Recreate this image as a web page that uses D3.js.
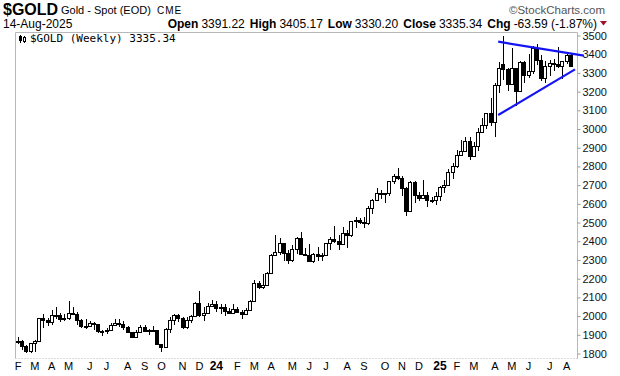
<!DOCTYPE html>
<html>
<head>
<meta charset="utf-8">
<script src="https://cdn.jsdelivr.net/npm/d3@7"></script>
<style>
  body { margin: 0; background: #fff; }
  svg { display: block; font-family: "Liberation Sans", Arial, sans-serif; }
</style>
</head>
<body>
<svg id="chart" width="620" height="376"></svg>
<script>
// weekly candles, Feb 6 2023 .. Aug 11 2025 (132 weeks)
const weeks = d3.timeMonday.range(new Date(2023, 1, 6), new Date(2025, 7, 12));

const opens = [
  1865, 1865, 1842, 1811, 1855, 1868, 1989, 1978, 1969, 2007, 2004, 1983,
  1990, 2017, 2011, 1977, 1946, 1948, 1961, 1958, 1921, 1919, 1925, 1955,
  1962, 1959, 1943, 1914, 1889, 1915, 1940, 1919, 1924, 1925, 1849, 1833,
  1932, 1981, 2006, 1992, 1940, 1981, 2002, 2072, 2004, 2019, 2053, 2063,
  2045, 2049, 2029, 2018, 2039, 2024, 2013, 2035, 2083, 2179, 2155, 2165,
  2230, 2329, 2344, 2392, 2337, 2301, 2360, 2415, 2334, 2327, 2293, 2333,
  2322, 2326, 2392, 2411, 2400, 2387, 2443, 2431, 2507, 2512, 2503, 2497,
  2577, 2621, 2658, 2653, 2657, 2721, 2747, 2736, 2684, 2563, 2715, 2650,
  2633, 2648, 2622, 2621, 2640, 2690, 2702, 2770, 2800, 2861, 2882, 2936,
  2858, 2910, 2984, 3022, 3084, 3037, 3237, 3345, 3319, 3241, 3325, 3203,
  3357, 3289, 3310, 3432, 3368, 3274, 3337, 3355, 3350, 3337, 3363, 3398
];
const highs = [
  1890, 1870, 1847, 1858, 1871, 1989, 2009, 1988, 2032, 2048, 2015, 2010,
  2079, 2048, 2022, 1985, 1983, 1976, 1970, 1959, 1926, 1935, 1963, 1987,
  1982, 1972, 1947, 1916, 1925, 1953, 1953, 1932, 1947, 1926, 1853, 1934,
  1997, 2009, 2009, 1993, 1993, 2008, 2075, 2135, 2047, 2071, 2088, 2078,
  2062, 2062, 2041, 2065, 2051, 2031, 2041, 2088, 2195, 2185, 2223, 2236,
  2330, 2431, 2418, 2392, 2354, 2378, 2422, 2450, 2364, 2387, 2339, 2368,
  2339, 2392, 2424, 2484, 2432, 2477, 2458, 2509, 2531, 2526, 2529, 2586,
  2626, 2686, 2673, 2657, 2724, 2758, 2790, 2750, 2688, 2721, 2721, 2666,
  2726, 2665, 2639, 2664, 2697, 2726, 2786, 2817, 2886, 2942, 2955, 2956,
  2930, 3005, 3057, 3086, 3167, 3245, 3358, 3500, 3328, 3435, 3327, 3366,
  3366, 3403, 3446, 3452, 3395, 3365, 3368, 3375, 3439, 3363, 3409, 3405
];
const lows = [
  1853, 1819, 1805, 1804, 1809, 1868, 1935, 1949, 1950, 1982, 1969, 1974,
  1977, 2008, 1952, 1937, 1932, 1940, 1925, 1911, 1893, 1902, 1923, 1952,
  1943, 1925, 1912, 1885, 1885, 1913, 1915, 1901, 1913, 1846, 1810, 1832,
  1909, 1953, 1971, 1932, 1931, 1965, 2001, 1993, 1973, 2016, 2050, 2024,
  2013, 2002, 2009, 2016, 2015, 1984, 2011, 2025, 2083, 2146, 2146, 2162,
  2228, 2326, 2324, 2292, 2277, 2291, 2334, 2325, 2322, 2287, 2286, 2296,
  2293, 2319, 2351, 2393, 2353, 2381, 2364, 2425, 2470, 2491, 2472, 2486,
  2547, 2616, 2625, 2604, 2643, 2708, 2730, 2643, 2537, 2560, 2605, 2613,
  2627, 2583, 2603, 2596, 2615, 2657, 2695, 2731, 2790, 2860, 2877, 2833,
  2856, 2880, 2982, 3000, 3015, 2957, 3194, 3260, 3202, 3240, 3121, 3200,
  3245, 3272, 3294, 3341, 3255, 3248, 3283, 3309, 3325, 3268, 3346, 3330
];
const closes = [
  1865, 1842, 1811, 1855, 1868, 1989, 1978, 1969, 2007, 2004, 1983, 1990,
  2017, 2011, 1977, 1946, 1948, 1961, 1958, 1921, 1919, 1925, 1955, 1962,
  1959, 1943, 1914, 1889, 1915, 1940, 1919, 1924, 1925, 1849, 1833, 1932,
  1981, 2006, 1992, 1940, 1981, 2002, 2072, 2004, 2019, 2053, 2063, 2045,
  2049, 2029, 2018, 2039, 2024, 2013, 2035, 2083, 2179, 2155, 2165, 2230,
  2329, 2344, 2392, 2337, 2301, 2360, 2415, 2334, 2327, 2293, 2333, 2322,
  2326, 2392, 2411, 2400, 2387, 2443, 2431, 2507, 2512, 2503, 2497, 2577,
  2621, 2658, 2653, 2657, 2721, 2747, 2736, 2684, 2563, 2715, 2650, 2633,
  2648, 2622, 2621, 2640, 2690, 2702, 2770, 2800, 2861, 2882, 2936, 2858,
  2910, 2984, 3022, 3084, 3037, 3237, 3327, 3319, 3241, 3325, 3203, 3357,
  3289, 3310, 3432, 3368, 3274, 3337, 3355, 3350, 3337, 3363, 3398, 3335
];

// month labels along the bottom, one per first week of each month
const monthLabels = ["F","M","A","M","J","J","A","S","O","N","D","24",
  "F","M","A","M","J","J","A","S","O","N","D","25",
  "F","M","A","M","J","J","A"];
const yTicks = [1800,1900,2000,2100,2200,2300,2400,2500,2600,2700,2800,2900,3000,3100,3200,3300,3400,3500];

// hand drawn triangle lines (week index, price)
const upperLineIdx = [113.8, 134.1], upperLinePx = [3467, 3392];
const lowerLineIdx = [113.8, 132.0], lowerLinePx = [3075, 3319];

const plot = {left: 15.5, right: 577.5, top: 32.5, bottom: 358.5};

const svg = d3.select("#chart");

const x = d3.scaleLinear().domain([0, weeks.length - 1]).range([18, 570.8]);
const y = d3.scaleLinear().domain([1800, 3500]).range([353.5, 35.5]);

// header
svg.append("text")
    .attr("x", 3).attr("y", 15)
    .style("font-family", "'Liberation Sans Narrow', 'Arial Narrow', sans-serif")
    .style("font-weight", "700")
    .style("font-size", "16px")
    .text("$GOLD");
svg.append("text")
    .attr("x", 61).attr("y", 14)
    .style("font-size", "11px")
    .text("Gold - Spot (EOD)");
svg.append("text")
    .attr("x", 157).attr("y", 14)
    .style("font-size", "10px")
    .style("letter-spacing", "1px")
    .text("CME");
svg.append("text")
    .attr("x", 605).attr("y", 14)
    .attr("text-anchor", "end")
    .style("font-size", "11.5px")
    .style("fill", "#555")
    .text("\u00a9StockCharts.com");
svg.append("text")
    .attr("x", 3).attr("y", 27.5)
    .style("font-size", "12px")
    .text("14-Aug-2025");

const quote = svg.append("text")
    .attr("x", 597).attr("y", 27.5)
    .attr("text-anchor", "end")
    .style("font-size", "12px");
[["Open", "3391.22"], ["High", "3405.17"], ["Low", "3330.20"], ["Close", "3335.34"], ["Chg", "-63.59 (-1.87%)"]]
  .forEach(function(q, k) {
    quote.append("tspan").attr("dx", k ? 5 : 0).style("font-weight", "700").text(q[0]);
    quote.append("tspan").attr("dx", 3).text(q[1]);
  });
svg.append("path")
    .attr("d", "M600,21 L607,21 L603.5,25.5 Z")
    .attr("fill", "#a0102a");

// frame
svg.append("path")
    .attr("d", `M${plot.left},${plot.bottom} V${plot.top} H${plot.right} V${plot.bottom}`)
    .attr("fill", "none")
    .attr("stroke", "#b8b8b8");
svg.append("line")
    .attr("x1", plot.left).attr("x2", plot.right)
    .attr("y1", plot.bottom).attr("y2", plot.bottom)
    .attr("stroke", "#b8b8b8")
    .attr("stroke-dasharray", "1,2");

// right axis
const yAxis = svg.append("g")
    .attr("transform", `translate(${plot.right},0)`)
    .call(d3.axisRight(y).tickValues(yTicks).tickSize(3).tickPadding(2).tickFormat(d3.format("d")));
yAxis.select(".domain").remove();
yAxis.selectAll(".tick line").attr("stroke", "#999");
yAxis.selectAll(".tick text")
    .style("font-family", "'Liberation Sans', Arial, sans-serif")
    .style("font-size", "11px")
    .attr("fill", "#111");

// month labels
const firstOfMonth = d3.range(weeks.length).filter(function(i) {
    return i === 0 || weeks[i].getMonth() !== weeks[i - 1].getMonth();
});
svg.append("g").selectAll("text")
    .data(firstOfMonth)
    .join("text")
    .attr("x", i => x(i))
    .attr("y", 370)
    .attr("text-anchor", "middle")
    .style("font-weight", (i, k) => monthLabels[k].length > 1 ? "700" : "400")
    .style("font-size", (i, k) => monthLabels[k].length > 1 ? "12px" : "11px")
    .text((i, k) => monthLabels[k]);

// legend
const legend = svg.append("g").attr("transform", "translate(19,34)");
legend.append("line").attr("x1", 1.5).attr("x2", 1.5).attr("y1", 1).attr("y2", 9).attr("stroke", "#000");
legend.append("rect").attr("x", 0.5).attr("y", 2.5).attr("width", 2).attr("height", 4).attr("fill", "#000").attr("stroke", "#000");
legend.append("line").attr("x1", 5.5).attr("x2", 5.5).attr("y1", 2).attr("y2", 9).attr("stroke", "#000");
legend.append("rect").attr("x", 4.5).attr("y", 3.5).attr("width", 2).attr("height", 4).attr("fill", "#fff").attr("stroke", "#000");
svg.append("text")
    .attr("x", 30).attr("y", 42)
    .style("font-family", "'DejaVu Sans Mono', monospace")
    .style("font-size", "11px")
    .text("$GOLD (Weekly) 3335.34");

// candles
const px = i => Math.round(x(i));
const candles = svg.append("g").selectAll("g")
    .data(d3.range(weeks.length))
    .join("g");

candles.append("line")
    .attr("x1", i => px(i) + 0.5)
    .attr("x2", i => px(i) + 0.5)
    .attr("y1", i => Math.round(y(highs[i])))
    .attr("y2", i => Math.round(y(lows[i])))
    .attr("stroke", "#000");

candles.append("rect")
    .attr("x", i => px(i) - 1.5)
    .attr("width", 3)
    .attr("y", i => Math.round(y(Math.max(opens[i], closes[i]))) + 0.5)
    .attr("height", i => Math.max(1, Math.round(y(Math.min(opens[i], closes[i]))) - Math.round(y(Math.max(opens[i], closes[i])))))
    .attr("fill", i => closes[i] >= opens[i] ? "#fff" : "#000")
    .attr("stroke", "#000");

// trend lines
const line = d3.line().x(d => x(d[0])).y(d => y(d[1]));
svg.append("path")
    .datum(d3.zip(upperLineIdx, upperLinePx))
    .attr("d", line)
    .attr("fill", "none")
    .attr("stroke", "#1414f5")
    .attr("stroke-width", 2.2);
svg.append("path")
    .datum(d3.zip(lowerLineIdx, lowerLinePx))
    .attr("d", line)
    .attr("fill", "none")
    .attr("stroke", "#1414f5")
    .attr("stroke-width", 2.2);
</script>
</body>
</html>
